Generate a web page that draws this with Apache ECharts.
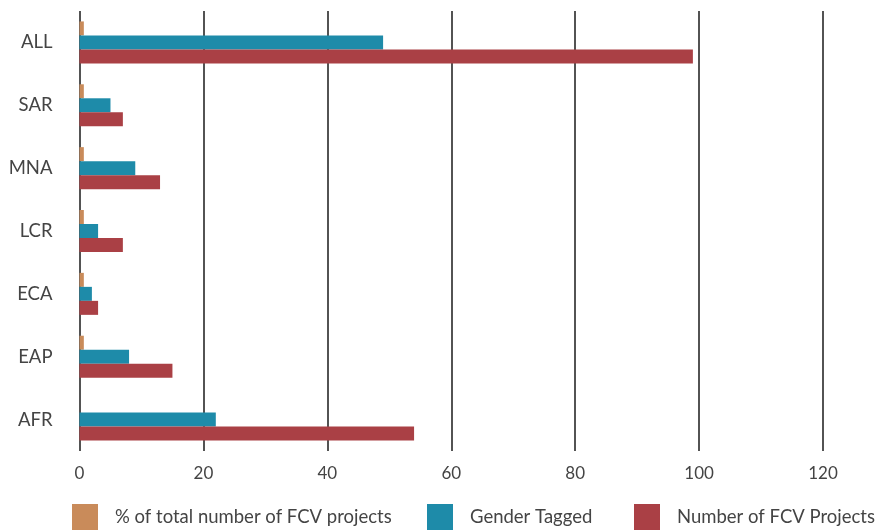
<!DOCTYPE html>
<html>
<head>
<meta charset="utf-8">
<script src="https://cdn.jsdelivr.net/npm/echarts@6/dist/echarts.min.js"></script>
<style>
  html, body { margin: 0; padding: 0; background: #fff; }
  #main { width: 875px; height: 530px; }
</style>
</head>
<body>
<div id="main"></div>
<script>
// regions, bottom to top as the axis reads
var regions = ['AFR', 'EAP', 'ECA', 'LCR', 'MNA', 'SAR', 'ALL'];

var pctTotal = [0, 0.7, 0.7, 0.7, 0.7, 0.7, 0.7];
var genderTagged = [22, 8, 2, 3, 9, 5, 49];
var fcvProjects = [54, 15, 3, 7, 13, 7, 99];

var seriesNames = ['% of total number of FCV projects', 'Gender Tagged', 'Number of FCV Projects'];
var xTicks = [0, 20, 40, 60, 80, 100, 120];

var myChart = echarts.init(document.getElementById('main'));

var fontFamily = 'Lato, "Open Sans", sans-serif';

// one legend per item so each can sit where the original puts it
var legendLefts = [72, 427, 634];
var legends = seriesNames.map(function (name, i) {
    return {
        bottom: 0,
        left: legendLefts[i],
        padding: 0,
        itemWidth: 26,
        itemHeight: 26,
        icon: 'rect',
        data: [name],
        textStyle: {
            color: '#444',
            fontSize: 18.5,
            fontFamily: fontFamily,
            padding: [0, 0, 0, 12]
        }
    };
});

myChart.setOption({
    backgroundColor: '#fff',
    color: ['#c98b5a', '#1e8ba9', '#aa4045'],
    animation: false,
    legend: legends,
    grid: {
        left: 79.5,
        right: 52,
        top: 11,
        bottom: 79
    },
    xAxis: {
        type: 'value',
        min: xTicks[0],
        max: xTicks[xTicks.length - 1],
        interval: 20,
        axisLine: { show: false },
        axisTick: { show: false },
        axisLabel: {
            color: '#444',
            fontSize: 17,
            fontFamily: fontFamily,
            margin: 14
        },
        splitLine: {
            show: true,
            lineStyle: { color: '#1a1a1a', width: 1.5 }
        }
    },
    yAxis: {
        type: 'category',
        data: regions,
        axisLine: { show: false },
        axisTick: { show: false },
        axisLabel: {
            color: '#444',
            fontSize: 18.5,
            fontFamily: fontFamily,
            margin: 27
        }
    },
    series: [
        {
            name: seriesNames[0],
            type: 'bar',
            data: pctTotal,
            barWidth: 14,
            barGap: '0%'
        },
        {
            name: seriesNames[1],
            type: 'bar',
            data: genderTagged,
            barWidth: 14,
            barGap: '0%'
        },
        {
            name: seriesNames[2],
            type: 'bar',
            data: fcvProjects,
            barWidth: 14,
            barGap: '0%'
        }
    ]
});
</script>
</body>
</html>
